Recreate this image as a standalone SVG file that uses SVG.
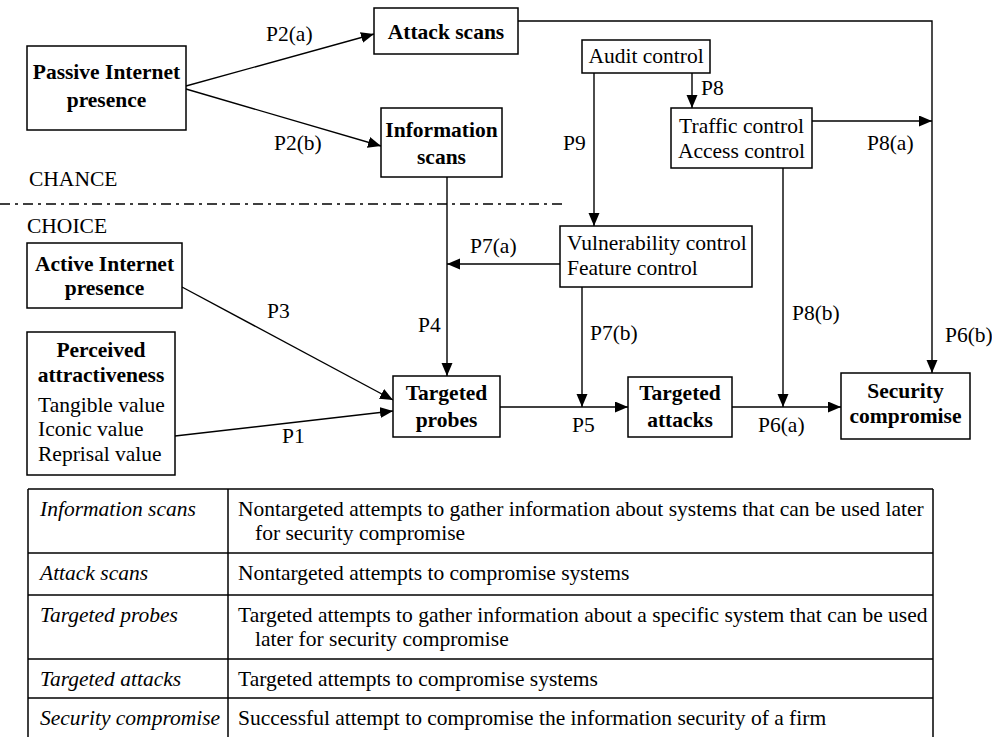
<svg xmlns="http://www.w3.org/2000/svg" width="992" height="737" viewBox="0 0 992 737">
<defs>
<style>
text{font-family:"Liberation Serif","Times New Roman",serif;font-size:21.5px;fill:#000}
.b{font-weight:bold}
.m{text-anchor:middle}
.i{font-style:italic}
.box{fill:#fff;stroke:#000;stroke-width:1.5}
.ln{fill:none;stroke:#000;stroke-width:1.4}
.ar{fill:none;stroke:#000;stroke-width:1.4;marker-end:url(#ah)}
.tb{fill:none;stroke:#000;stroke-width:1.5}
</style>
<marker id="ah" markerUnits="userSpaceOnUse" markerWidth="14" markerHeight="12" refX="13" refY="5.5" orient="auto">
<path d="M0,0 L13,5.5 L0,11 z" fill="#000"/>
</marker>
</defs>
<rect width="992" height="737" fill="#fff"/>

<g id="connectors">
<line class="ar" x1="186" y1="86" x2="374" y2="34"/>
<line class="ar" x1="186" y1="89" x2="381" y2="146"/>
<polyline class="ar" points="518,21 932,21 932,373"/>
<line class="ar" x1="447" y1="177" x2="447" y2="376"/>
<line class="ar" x1="692" y1="73" x2="692" y2="108"/>
<line class="ar" x1="594" y1="73" x2="594" y2="226"/>
<line class="ar" x1="812" y1="121" x2="932" y2="121"/>
<line class="ar" x1="783" y1="168" x2="783" y2="407"/>
<line class="ar" x1="560" y1="264" x2="447" y2="264"/>
<line class="ar" x1="582" y1="287" x2="582" y2="407"/>
<line class="ar" x1="182" y1="287" x2="393" y2="400"/>
<line class="ar" x1="175" y1="436" x2="393" y2="411"/>
<line class="ar" x1="500" y1="407" x2="628" y2="407"/>
<line class="ar" x1="732" y1="407" x2="841" y2="407"/>
<line class="ln" x1="0" y1="204" x2="565" y2="204" stroke-dasharray="10 5 3 5"/>
</g>

<g id="labels">
<text x="266" y="41">P2(a)</text>
<text x="274" y="150">P2(b)</text>
<text x="29" y="186">CHANCE</text>
<text x="27" y="233">CHOICE</text>
<text x="563" y="150">P9</text>
<text x="701" y="95">P8</text>
<text x="867" y="150">P8(a)</text>
<text x="470" y="253">P7(a)</text>
<text x="267" y="318">P3</text>
<text x="418" y="332">P4</text>
<text x="590" y="340">P7(b)</text>
<text x="792" y="320">P8(b)</text>
<text x="945" y="342">P6(b)</text>
<text x="282" y="443">P1</text>
<text x="572" y="432">P5</text>
<text x="758" y="432">P6(a)</text>
</g>

<g id="passive">
<rect class="box" x="27" y="46" width="159" height="84"/>
<text class="b m" x="106.5" y="79">Passive Internet</text>
<text class="b m" x="106.5" y="107">presence</text>
</g>
<g id="attack-scans">
<rect class="box" x="374" y="8" width="144" height="46"/>
<text class="b m" x="446" y="39">Attack scans</text>
</g>
<g id="information-scans">
<rect class="box" x="381" y="108" width="121" height="69"/>
<text class="b m" x="441.5" y="137">Information</text>
<text class="b m" x="441.5" y="164">scans</text>
</g>
<g id="audit">
<rect class="box" x="582" y="40" width="128" height="33"/>
<text class="m" x="646" y="63">Audit control</text>
</g>
<g id="traffic">
<rect class="box" x="671" y="108" width="141" height="60"/>
<text class="m" x="741.5" y="133">Traffic control</text>
<text class="m" x="741.5" y="158">Access control</text>
</g>
<g id="vulnerability">
<rect class="box" x="560" y="226" width="192" height="61"/>
<text x="567" y="250">Vulnerability control</text>
<text x="567" y="275">Feature control</text>
</g>
<g id="active">
<rect class="box" x="27" y="243" width="155" height="65"/>
<text class="b m" x="104.5" y="271">Active Internet</text>
<text class="b m" x="104.5" y="295">presence</text>
</g>
<g id="perceived">
<rect class="box" x="27" y="332" width="148" height="143"/>
<text class="b m" x="101" y="357">Perceived</text>
<text class="b m" x="101" y="382">attractiveness</text>
<text x="38" y="412">Tangible value</text>
<text x="38" y="436">Iconic value</text>
<text x="38" y="461">Reprisal value</text>
</g>
<g id="probes">
<rect class="box" x="393" y="376" width="107" height="61"/>
<text class="b m" x="446.5" y="400">Targeted</text>
<text class="b m" x="446.5" y="427">probes</text>
</g>
<g id="attacks">
<rect class="box" x="628" y="377" width="104" height="60"/>
<text class="b m" x="680" y="400">Targeted</text>
<text class="b m" x="680" y="427">attacks</text>
</g>
<g id="compromise">
<rect class="box" x="841" y="373" width="129" height="66"/>
<text class="b m" x="905.5" y="398">Security</text>
<text class="b m" x="905.5" y="423">compromise</text>
</g>

<g id="table">
<line class="tb" x1="28" y1="489" x2="933" y2="489"/>
<line class="tb" x1="28" y1="553" x2="933" y2="553"/>
<line class="tb" x1="28" y1="595" x2="933" y2="595"/>
<line class="tb" x1="28" y1="659" x2="933" y2="659"/>
<line class="tb" x1="28" y1="698" x2="933" y2="698"/>
<line class="tb" x1="28" y1="489" x2="28" y2="737"/>
<line class="tb" x1="228" y1="489" x2="228" y2="737"/>
<line class="tb" x1="933" y1="489" x2="933" y2="737"/>
<text class="i" x="40" y="516">Information scans</text>
<text x="238" y="516">Nontargeted attempts to gather information about systems that can be used later</text>
<text x="255" y="540">for security compromise</text>
<text class="i" x="40" y="580">Attack scans</text>
<text x="238" y="580">Nontargeted attempts to compromise systems</text>
<text class="i" x="40" y="622">Targeted probes</text>
<text x="238" y="622">Targeted attempts to gather information about a specific system that can be used</text>
<text x="255" y="646">later for security compromise</text>
<text class="i" x="40" y="686">Targeted attacks</text>
<text x="238" y="686">Targeted attempts to compromise systems</text>
<text class="i" x="40" y="725">Security compromise</text>
<text x="238" y="725">Successful attempt to compromise the information security of a firm</text>
</g>
</svg>
